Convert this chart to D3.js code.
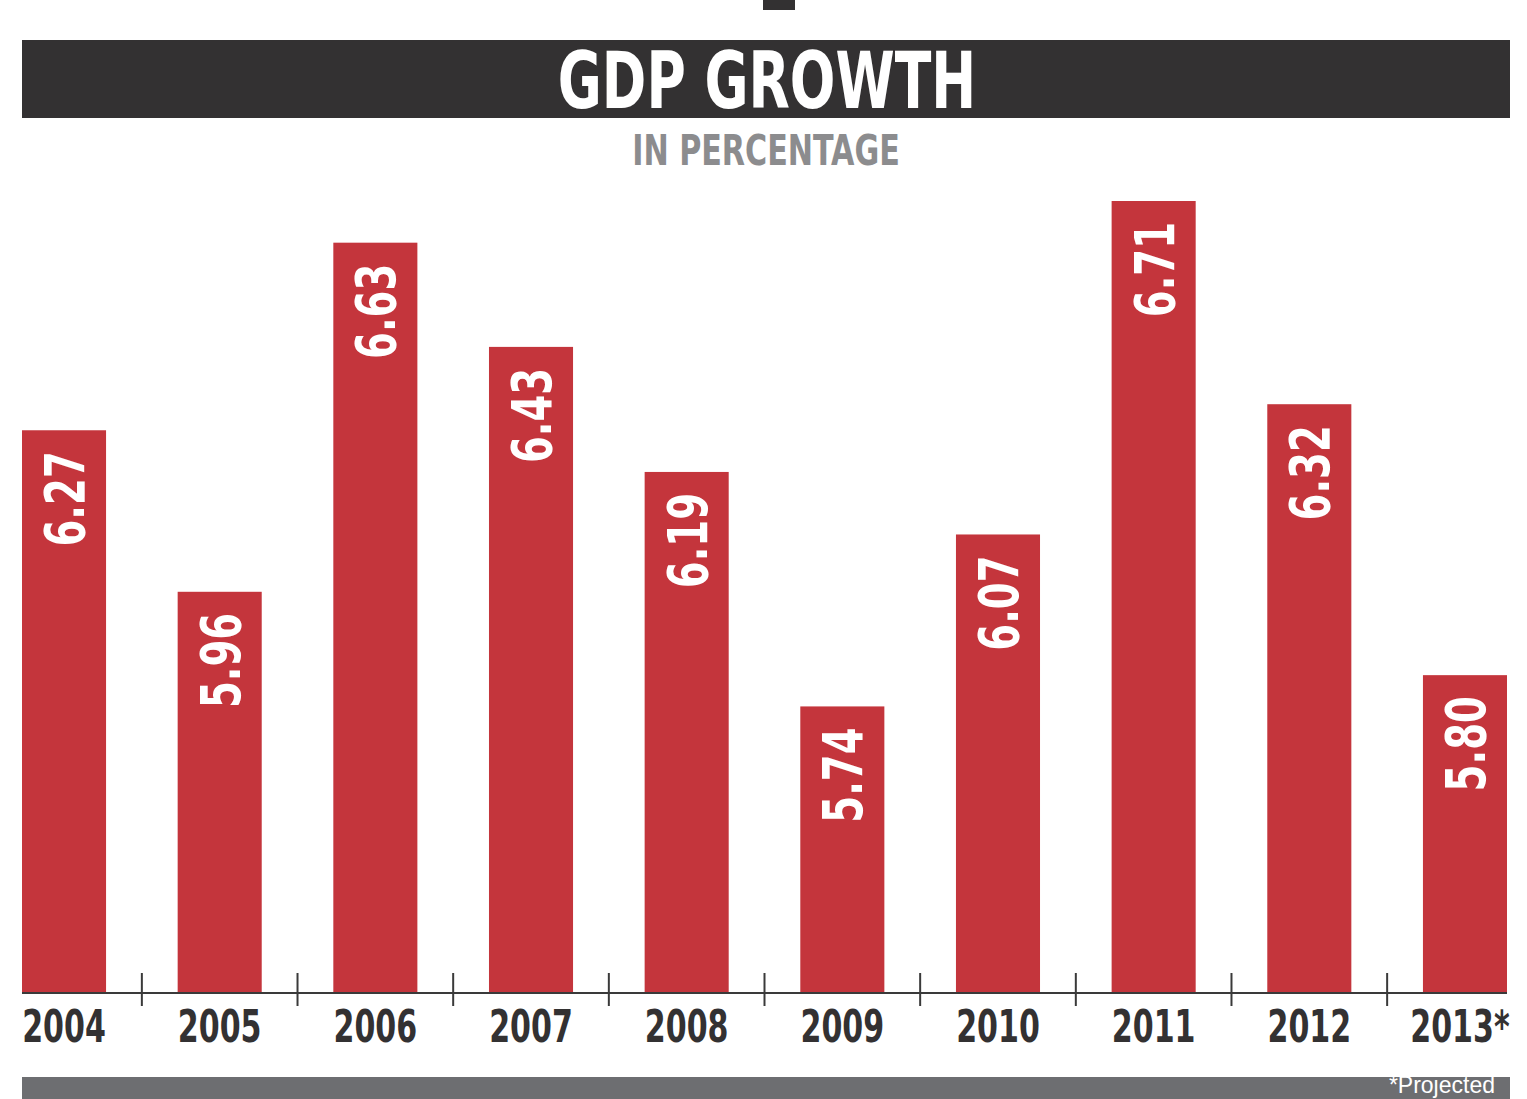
<!DOCTYPE html>
<html>
<head>
<meta charset="utf-8">
<script src="https://cdn.jsdelivr.net/npm/d3@7"></script>
<style>
  html, body { margin: 0; padding: 0; background: #ffffff; }
  svg { display: block; }
  .cond { font-family: "Liberation Sans Narrow", "DejaVu Sans Condensed", "Roboto", sans-serif; font-weight: bold; font-stretch: condensed; }
</style>
</head>
<body>
<svg id="chart" width="1527" height="1099"></svg>
<script>
const years = ["2004", "2005", "2006", "2007", "2008", "2009", "2010", "2011", "2012", "2013*"];
const growth = [6.27, 5.96, 6.63, 6.43, 6.19, 5.74, 6.07, 6.71, 6.32, 5.80];
const valueLabels = ["6.27", "5.96", "6.63", "6.43", "6.19", "5.74", "6.07", "6.71", "6.32", "5.80"];
const titleText = "GDP GROWTH";
const subtitleText = "IN PERCENTAGE";
const noteText = "*Projected";

const left = 22, right = 1507, baseY = 993, topY = 201;
const svg = d3.select("#chart");

// narrow the fallback condensed font to match a compressed headline face
function squeeze(sel, f) {
  sel.each(function () {
    const w = this.getComputedTextLength();
    d3.select(this).attr("textLength", w * f).attr("lengthAdjust", "spacingAndGlyphs");
  });
}

// top decoration
svg.append("rect").attr("x", 763).attr("y", 0).attr("width", 32).attr("height", 10).attr("fill", "#333132");

// title bar
svg.append("rect").attr("x", 22).attr("y", 40).attr("width", 1488).attr("height", 78).attr("fill", "#333132");
svg.append("text").attr("class", "cond").attr("x", 767).attr("y", 108)
  .attr("text-anchor", "middle").attr("fill", "#ffffff").attr("font-size", 78)
  .text(titleText).call(squeeze, 0.765);
svg.append("text").attr("class", "cond").attr("x", 766).attr("y", 165)
  .attr("text-anchor", "middle").attr("fill", "#8c8c8e").attr("font-size", 43)
  .text(subtitleText).call(squeeze, 0.78);

const x = d3.scaleBand().domain(years).range([left, right]).paddingInner(0.46).paddingOuter(0);
const y = d3.scaleLinear().domain([5.19, 6.71]).range([baseY, topY]);

const data = years.map((yr, i) => ({ yr, v: growth[i], lab: valueLabels[i] }));

svg.append("g").selectAll("rect").data(data).join("rect")
  .attr("x", d => x(d.yr)).attr("y", d => y(d.v))
  .attr("width", x.bandwidth()).attr("height", d => baseY - y(d.v))
  .attr("fill", "#c4353c");

svg.append("g").selectAll("text").data(data).join("text")
  .attr("class", "cond")
  .attr("transform", d => `translate(${x(d.yr) + x.bandwidth() / 2 + 20},${y(d.v) + 21}) rotate(-90)`)
  .attr("text-anchor", "end").attr("fill", "#ffffff").attr("font-size", 55)
  .text(d => d.lab).call(squeeze, 0.78);

// axis line
svg.append("line").attr("x1", left).attr("x2", right).attr("y1", baseY).attr("y2", baseY)
  .attr("stroke", "#3a3a3a").attr("stroke-width", 2);
const gap = x.step() * x.paddingInner();
svg.append("g").selectAll("line").data(years.slice(1)).join("line")
  .attr("x1", d => x(d) - gap / 2).attr("x2", d => x(d) - gap / 2)
  .attr("y1", 973).attr("y2", 1006)
  .attr("stroke", "#3a3a3a").attr("stroke-width", 2);

svg.append("g").selectAll("text").data(years).join("text")
  .attr("class", "cond")
  .attr("transform", d => `translate(${x(d) + x.bandwidth() / 2 - (d.length > 4 ? 5 : 0)},1042) scale(0.76,1)`)
  .attr("text-anchor", "middle").attr("fill", "#333132").attr("font-size", 44)
  .text(d => d);

// bottom bar
svg.append("rect").attr("x", 22).attr("y", 1077).attr("width", 1488).attr("height", 30).attr("fill", "#6d6e71");
svg.append("text").attr("x", 1495).attr("y", 1093)
  .attr("text-anchor", "end").attr("fill", "#ffffff").attr("font-size", 23)
  .attr("font-family", "Liberation Sans, Arial, sans-serif")
  .text(noteText);
</script>
</body>
</html>
